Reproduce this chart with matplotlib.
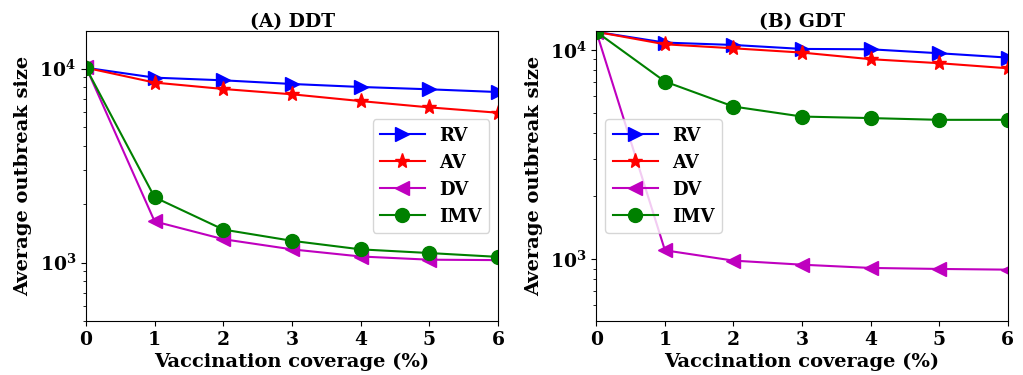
import matplotlib
matplotlib.use("Agg")
import matplotlib.pyplot as plt

coverage = [0, 1, 2, 3, 4, 5, 6]
series_names = ["RV", "AV", "DV", "IMV"]

ddt_rv = [10100, 8980, 8700, 8330, 8040, 7820, 7570]
ddt_av = [10100, 8470, 7850, 7370, 6800, 6310, 5920]
ddt_dv = [10200, 1630, 1320, 1170, 1075, 1035, 1030]
ddt_imv = [10100, 2170, 1480, 1295, 1170, 1120, 1070]

gdt_rv = [12200, 10840, 10560, 10110, 10070, 9640, 9190]
gdt_av = [12200, 10640, 10180, 9710, 9030, 8640, 8170]
gdt_dv = [12200, 1100, 982, 939, 906, 896, 889]
gdt_imv = [12200, 7060, 5360, 4800, 4720, 4630, 4630]

titles = ["(A) DDT", "(B) GDT"]
xlabel = "Vaccination coverage (%)"
ylabel = "Average outbreak size"

plt.rcParams['font.family'] = ['DejaVu Serif']
plt.rcParams['font.weight'] = 'bold'

styles = [("b", ">"), ("r", "*"), ("m", "<"), ("g", "o")]

fig = plt.figure(figsize=(10.23, 3.75), dpi=100)
ax1 = fig.add_axes([0.084, 0.144, 0.403, 0.773])
ax2 = fig.add_axes([0.583, 0.144, 0.402, 0.773])

panels = [
    (ax1, [ddt_rv, ddt_av, ddt_dv, ddt_imv], (500, 15600), "center right"),
    (ax2, [gdt_rv, gdt_av, gdt_dv, gdt_imv], (505, 12300), "center left"),
]

for i, (ax, data, ylim, loc) in enumerate(panels):
    for name, vals, (c, m) in zip(series_names, data, styles):
        ax.plot(coverage, vals, color=c, marker=m, markersize=10 if m != "*" else 11,
                linewidth=1.5, label=name)
    ax.set_yscale("log")
    ax.set_xlim(0, 6)
    ax.set_ylim(*ylim)
    ax.set_xticks(coverage)
    ax.tick_params(axis="both", labelsize=13.5)
    for lab in ax.get_xticklabels() + ax.get_yticklabels():
        lab.set_fontweight("bold")
    ax.set_xlabel(xlabel, fontsize=14, fontweight="bold", labelpad=3)
    ax.set_ylabel(ylabel, fontsize=14, fontweight="bold", labelpad=5)
    ax.set_title(titles[i], fontsize=13.5, fontweight="bold", pad=3)
    leg = ax.legend(loc=loc, prop={"weight": "bold", "size": 13},
                    handlelength=2.5)

fig.savefig("out.png", dpi=100)
